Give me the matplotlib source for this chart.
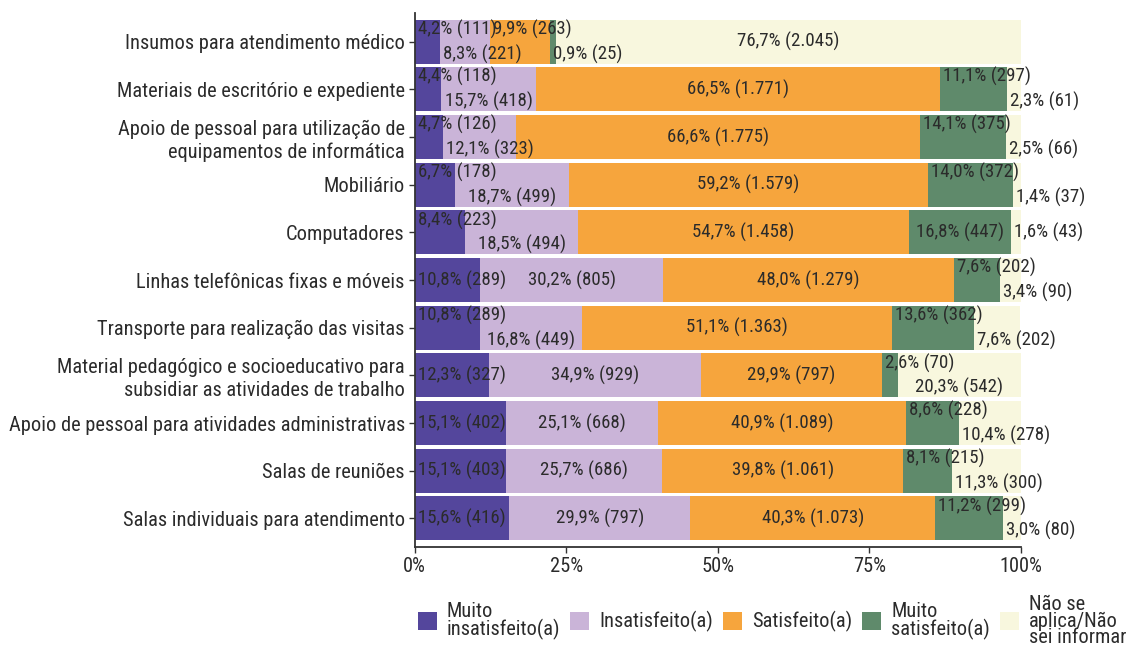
import matplotlib
matplotlib.use("Agg")
import matplotlib.pyplot as plt
from matplotlib import font_manager as fm
import numpy as np

# ---------------- data ----------------
categories = [
    "Insumos para atendimento médico",
    "Materiais de escritório e expediente",
    "Apoio de pessoal para utilização de\nequipamentos de informática",
    "Mobiliário",
    "Computadores",
    "Linhas telefônicas fixas e móveis",
    "Transporte para realização das visitas",
    "Material pedagógico e socioeducativo para\nsubsidiar as atividades de trabalho",
    "Apoio de pessoal para atividades administrativas",
    "Salas de reuniões",
    "Salas individuais para atendimento",
]
series_names = ["Muito\ninsatisfeito(a)", "Insatisfeito(a)", "Satisfeito(a)",
                "Muito\nsatisfeito(a)", "Não se\naplica/Não\nsei informar"]
muito_insat_pct = [4.2, 4.4, 4.7, 6.7, 8.4, 10.8, 10.8, 12.3, 15.1, 15.1, 15.6]
muito_insat_n = [111, 118, 126, 178, 223, 289, 289, 327, 402, 403, 416]
insat_pct = [8.3, 15.7, 12.1, 18.7, 18.5, 30.2, 16.8, 34.9, 25.1, 25.7, 29.9]
insat_n = [221, 418, 323, 499, 494, 805, 449, 929, 668, 686, 797]
satisf_pct = [9.9, 66.5, 66.6, 59.2, 54.7, 48.0, 51.1, 29.9, 40.9, 39.8, 40.3]
satisf_n = [263, 1771, 1775, 1579, 1458, 1279, 1363, 797, 1089, 1061, 1073]
muito_satisf_pct = [0.9, 11.1, 14.1, 14.0, 16.8, 7.6, 13.6, 2.6, 8.6, 8.1, 11.2]
muito_satisf_n = [25, 297, 375, 372, 447, 202, 362, 70, 228, 215, 299]
na_pct = [76.7, 2.3, 2.5, 1.4, 1.6, 3.4, 7.6, 20.3, 10.4, 11.3, 3.0]
na_n = [2045, 61, 66, 37, 43, 90, 202, 542, 278, 300, 80]
x_ticks = [0, 25, 50, 75, 100]
x_tick_labels = ["0%", "25%", "50%", "75%", "100%"]

colors = ["#54469c", "#cab4d8", "#f6a53d", "#5f8a6b", "#f8f7de"]
text_color = "#2b2b2b"

# ---------------- font ----------------
names = {f.name for f in fm.fontManager.ttflist}
family = None
for cand in ["Roboto Condensed", "Liberation Sans Narrow"]:
    if cand in names:
        family = cand
        break
scale = 1.0
if family is None:
    family = "Roboto" if "Roboto" in names else "DejaVu Sans"
    scale = 0.88
FS = 14.7 * scale      # axis / legend text
FSV = 13.6 * scale     # value labels
plt.rcParams['font.family'] = [family, 'DejaVu Sans']

# ---------------- figure ----------------
W, H = 1129, 645
fig = plt.figure(figsize=(W / 100, H / 100), dpi=100)
ax = fig.add_axes([414.5 / W, 1 - 547 / H, (1021 - 414.5) / W, (547 - 13) / H])

series_pct = [muito_insat_pct, insat_pct, satisf_pct, muito_satisf_pct, na_pct]
series_n = [muito_insat_n, insat_n, satisf_n, muito_satisf_n, na_n]
y = np.arange(len(categories))
left = np.zeros(len(categories))
for k in range(5):
    vals = np.array(series_pct[k])
    ax.barh(y, vals, left=left, height=0.92, color=colors[k], label=series_names[k])
    left += vals

ax.set_xlim(0, 100)
ax.set_ylim(len(categories) - 0.4, -0.6)
ax.set_yticks(y)
ax.set_yticklabels(categories, fontsize=FS, color=text_color, linespacing=1.25)
ax.set_xticks(x_ticks)
ax.set_xticklabels(x_tick_labels, fontsize=FS, color=text_color)
for s in ["top", "right"]:
    ax.spines[s].set_visible(False)
for s in ["left", "bottom"]:
    ax.spines[s].set_color("#333333")
    ax.spines[s].set_linewidth(1.3)
ax.tick_params(axis='both', length=4, width=1, color="#333333", pad=3)


def fmt_label(p, n):
    ps = f"{p:.1f}".replace(".", ",")
    ns = f"{n:,}".replace(",", ".")
    return f"{ps}% ({ns})"


renderer = fig.canvas.get_renderer()
px_per_unit = ax.transData.transform((1, 0))[0] - ax.transData.transform((0, 0))[0]
pad = 3.0 / px_per_unit
gap = 2.0 / px_per_unit
off = 0.26
for r in range(len(categories)):
    start = 0.0
    prev = None  # (text, right_edge, level)
    for k in range(5):
        p = series_pct[k][r]
        n = series_n[k][r]
        t = ax.text(0, r, fmt_label(p, n), ha='left', va='center',
                    fontsize=FSV, color=text_color)
        wdt = t.get_window_extent(renderer).width / px_per_unit
        center = start + p / 2
        x0 = max(center - wdt / 2, start + pad)
        level = 0
        if prev is not None and x0 < prev[1] + gap:
            ptxt, pright, plevel = prev
            if plevel == 0:
                plevel = 1
                ptxt.set_y(r - off)
            level = -plevel
        t.set_position((x0, r + (-off if level == 1 else off if level == -1 else 0)))
        prev = (t, x0 + wdt, level)
        start += p

leg = fig.legend(loc='center left', bbox_to_anchor=(418 / W, 1 - 621 / H),
                 ncol=5, frameon=False, fontsize=FS,
                 handlelength=0.93, handleheight=0.93, handletextpad=0.48,
                 columnspacing=0.5, borderpad=0, borderaxespad=0)
for t in leg.get_texts():
    t.set_color(text_color)
    t.set_linespacing(0.83)
try:
    hb = leg._legend_handle_box
    hb.align = 'center'
    for col in hb.get_children():
        col.align = 'center'
        for item in col.get_children():
            item.align = 'center'
except Exception:
    pass

fig.savefig("out.png", dpi=100)
